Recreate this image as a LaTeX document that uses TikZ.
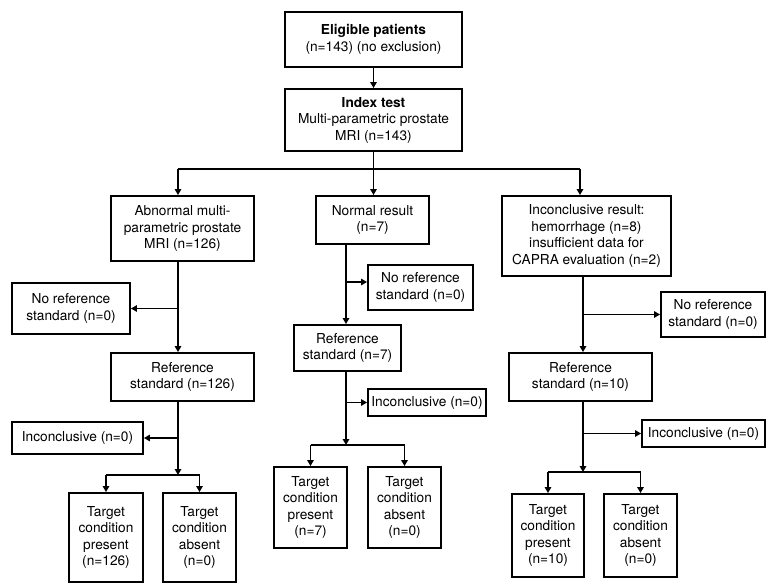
\documentclass[tikz,border=0pt]{standalone}
\usepackage{fontspec}
\setmainfont{TeX Gyre Heros}
\usetikzlibrary{arrows.meta}
\begin{document}
\begin{tikzpicture}[x=1pt,y=1pt,
  box/.style={draw, line width=1.9pt, inner sep=0pt, align=center,
    font=\fontsize{13.7}{16.5}\selectfont},
  ln/.style={line width=1.9pt},
  arr/.style={line width=1.9pt, -{Triangle[length=6pt,width=6.5pt]}}]
\useasboundingbox[fill=white] (0,0) rectangle (777,-588);

% boxes
\node[box, minimum width=177, minimum height=55] (elig) at (373.5,-39.5) {\textbf{Eligible patients}\\(n=143) (no exclusion)};
\node[box, minimum width=177, minimum height=62] (index) at (373.5,-120) {\textbf{Index test}\\Multi-parametric prostate\\MRI (n=143)};
\node[box, minimum width=143, minimum height=65] (abn) at (182.5,-228.5) {Abnormal multi-\\parametric prostate\\MRI (n=126)};
\node[box, minimum width=113, minimum height=48] (norm) at (372.5,-220) {Normal result\\(n=7)};
\node[box, minimum width=169, minimum height=80] (inc) at (586.5,-236) {Inconclusive result:\\hemorrhage (n=8)\\insufficient data for\\CAPRA evaluation (n=2)};
\node[box, minimum width=118, minimum height=51] (nr1) at (71,-308.5) {No reference\\standard (n=0)};
\node[box, minimum width=105, minimum height=45] (nr2) at (420.5,-287.5) {No reference\\standard (n=0)};
\node[box, minimum width=104, minimum height=45] (nr3) at (713,-314.5) {No reference\\standard (n=0)};
\node[box, minimum width=143, minimum height=48] (ref1) at (182.5,-377) {Reference\\standard (n=126)};
\node[box, minimum width=107, minimum height=46] (ref2) at (347.5,-348) {Reference\\standard (n=7)};
\node[box, minimum width=143, minimum height=48] (ref3) at (580.5,-377) {Reference\\standard (n=10)};
\node[box, minimum width=131, minimum height=32] (ic1) at (77.5,-438) {Inconclusive (n=0)};
\node[box, minimum width=118, minimum height=27] (ic2) at (427,-402.5) {Inconclusive (n=0)};
\node[box, minimum width=123, minimum height=27] (ic3) at (703.5,-433.5) {Inconclusive (n=0)};
\node[box, minimum width=74, minimum height=89] (tp1) at (106,-537.5) {Target\\condition\\present\\(n=126)};
\node[box, minimum width=73, minimum height=89] (ta1) at (199.5,-537.5) {Target\\condition\\absent\\(n=0)};
\node[box, minimum width=73, minimum height=81] (tp2) at (310.5,-507.5) {Target\\condition\\present\\(n=7)};
\node[box, minimum width=73, minimum height=81] (ta2) at (404.5,-507.5) {Target\\condition\\absent\\(n=0)};
\node[box, minimum width=72, minimum height=83] (tp3) at (548,-535.5) {Target\\condition\\present\\(n=10)};
\node[box, minimum width=73, minimum height=83] (ta3) at (640.5,-535.5) {Target\\condition\\absent\\(n=0)};

% helper coordinates
\coordinate (h) at (0,-169);
\coordinate (c1) at (178,0);
\coordinate (c2) at (346,0);
\coordinate (c3) at (583,0);
\coordinate (t3) at (580,0);
\coordinate (b2) at (0,-282);
\coordinate (s1) at (0,-475);
\coordinate (s2) at (0,-445);
\coordinate (s3) at (0,-472);

% top
\draw[arr] (elig) -- (index);
\draw[ln] (index.south) -- (index.south |- h);
\draw[ln] (c1 |- h) -- (t3 |- h);
\draw[arr] (c1 |- h) -- (abn.north -| c1);
\draw[arr] (index.south |- h) -- (norm.north -| index.south);
\draw[arr] (t3 |- h) -- (inc.north -| t3);

% column 1
\draw[arr] (abn.south -| c1) -- (ref1.north -| c1);
\draw[arr] (c1 |- nr1.east) -- (nr1.east);
\draw[arr] (ref1.south -| c1) -- (c1 |- s1);
\draw[arr] (c1 |- ic1.east) -- (ic1.east);
\draw[ln] (tp1.north |- s1) -- (ta1.north |- s1);
\draw[arr] (tp1.north |- s1) -- (tp1.north);
\draw[arr] (ta1.north |- s1) -- (ta1.north);

% column 2
\draw[arr] (norm.south -| c2) -- (ref2.north -| c2);
\draw[arr] (c2 |- b2) -- (nr2.west |- b2);
\draw[arr] (ref2.south -| c2) -- (c2 |- s2);
\draw[arr] (c2 |- ic2.west) -- (ic2.west);
\draw[ln] (tp2.north |- s2) -- (ta2.north |- s2);
\draw[arr] (tp2.north |- s2) -- (tp2.north);
\draw[arr] (ta2.north |- s2) -- (ta2.north);

% column 3
\draw[arr] (inc.south -| c3) -- (ref3.north -| c3);
\draw[arr] (c3 |- nr3.west) -- (nr3.west);
\draw[arr] (ref3.south -| c3) -- (c3 |- s3);
\draw[arr] (c3 |- ic3.west) -- (ic3.west);
\draw[ln] (tp3.north |- s3) -- (ta3.north |- s3);
\draw[arr] (tp3.north |- s3) -- (tp3.north);
\draw[arr] (ta3.north |- s3) -- (ta3.north);
\end{tikzpicture}
\end{document}
